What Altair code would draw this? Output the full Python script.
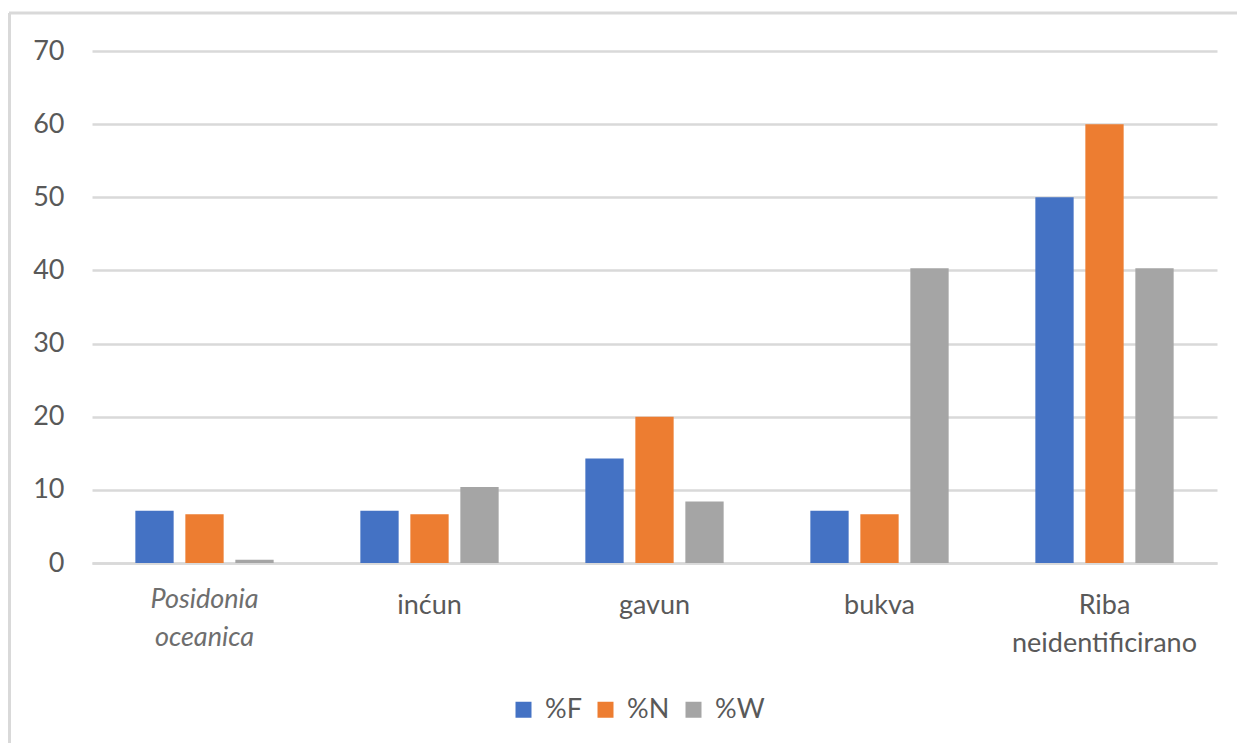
import altair as alt
import pandas as pd

categories = ["Posidonia oceanica", "inćun", "gavun", "bukva", "Riba neidentificirano"]
series = ["%F", "%N", "%W"]
pct_F = [7.14, 7.14, 14.29, 7.14, 50.0]
pct_N = [6.67, 6.67, 20.0, 6.67, 60.0]
pct_W = [0.45, 10.4, 8.4, 40.3, 40.3]
colors = ["#4472C4", "#ED7D31", "#A5A5A5"]
y_ticks = [0, 10, 20, 30, 40, 50, 60, 70]

rows = []
for s, vals in zip(series, [pct_F, pct_N, pct_W]):
    for c, v in zip(categories, vals):
        rows.append({"category": c, "series": s, "value": v})
df = pd.DataFrame(rows)

FONT = "Lato"
TXT = "#595959"
GRID = "#D9D9D9"
ITALIC_TEST = "datum.value == 'Posidonia oceanica'"

bars = alt.Chart(df).mark_bar().encode(
    x=alt.X(
        "category:N", sort=categories, title=None,
        scale=alt.Scale(paddingInner=1 / 3, paddingOuter=1 / 6),
        axis=alt.Axis(
            labelAngle=0, ticks=False, domain=True, domainColor=GRID, domainWidth=2.5,
            labelFont=FONT, labelFontSize=27, labelLimit=0, grid=False,
            labelBaseline="alphabetic", labelLineHeight=38,
            labelPadding={"condition": {"test": ITALIC_TEST, "value": 44}, "value": 50},
            labelColor={"condition": {"test": ITALIC_TEST, "value": "#6E6E6E"}, "value": TXT},
            labelExpr="indexof(datum.value, ' ') > 0 ? split(datum.value, ' ') : datum.value",
            labelFontStyle={"condition": {"test": ITALIC_TEST, "value": "italic"}, "value": "normal"},
        ),
    ),
    xOffset=alt.XOffset("series:N", sort=series,
                        scale=alt.Scale(paddingInner=0.234, paddingOuter=0.117)),
    y=alt.Y(
        "value:Q", title=None,
        scale=alt.Scale(domain=[0, 70], nice=False),
        axis=alt.Axis(
            values=y_ticks, ticks=False, domain=False, grid=True,
            gridColor=GRID, gridWidth=2.5, labelPadding=28,
            labelFont=FONT, labelFontSize=27, labelColor=TXT,
        ),
    ),
    color=alt.Color(
        "series:N", sort=series,
        scale=alt.Scale(domain=series, range=colors),
        legend=alt.Legend(
            orient="none", legendX=418, legendY=645, direction="horizontal", title=None,
            symbolType="square", symbolSize=256, symbolStrokeWidth=0,
            labelFont=FONT, labelFontSize=27, labelColor=TXT, labelOffset=8,
            columnPadding=10, padding=0,
        ),
    ),
)

frame_src = pd.DataFrame({"k": [0]})
frame_top = alt.Chart(frame_src).mark_rule(color=GRID, strokeWidth=3).encode(
    x=alt.value(-83), x2=alt.value(1200), y=alt.value(-38)
)
frame_left = alt.Chart(frame_src).mark_rule(color=GRID, strokeWidth=3).encode(
    x=alt.value(-82.5), y=alt.value(-38), y2=alt.value(800)
)

chart = alt.layer(frame_top, frame_left, bars).properties(
    width=1125, height=512,
    padding={"left": 84, "top": 43, "right": 20, "bottom": 180},
    autosize=alt.AutoSizeParams(type="none"),
).configure_view(stroke=None)

chart.save("out.html", embed_options={"renderer": "svg", "actions": False})
